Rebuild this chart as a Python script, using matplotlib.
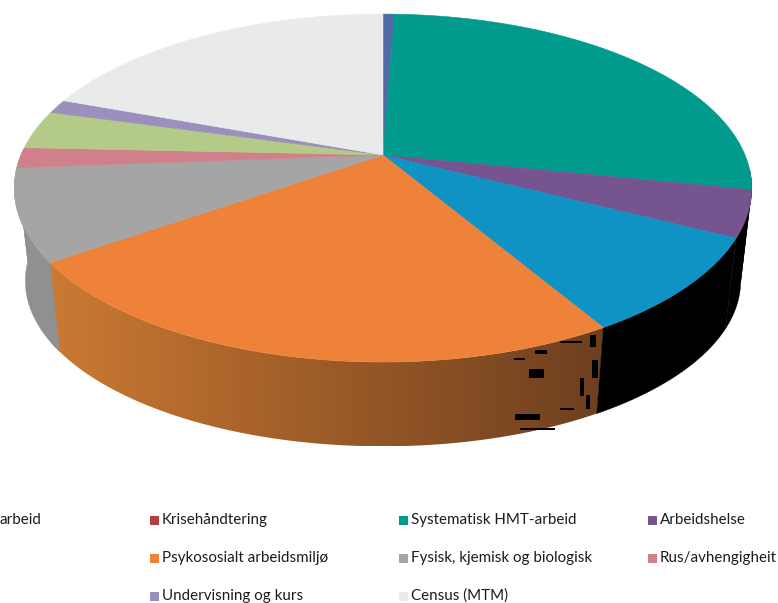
import numpy as np
from matplotlib import pyplot as plt
from matplotlib.colors import LinearSegmentedColormap
from matplotlib.patches import Polygon, Rectangle

# categories, clockwise from 12 o'clock (the first label is cut by the left edge of the picture)
etiketter = ["arbeid", "Krisehåndtering", "Systematisk HMT-arbeid", "Arbeidshelse", "",
             "Psykososialt arbeidsmiljø", "Fysisk, kjemisk og biologisk", "Rus/avhengigheit",
             "", "Undervisning og kurs", "Census (MTM)"]
verdier = [0.6, 0.0, 27.6, 4.3, 9.0, 23.8, 8.5, 1.9, 3.6, 1.3, 19.4]
farger = ["#4f6aa5", "#b0413e", "#009b8d", "#76548f", "#0e93c4",
          "#ee8239", "#a5a5a5", "#d0808a", "#b3cb87", "#9a8fbd", "#e9eaea"]
vegg_farger = ["#000000", "#000000", "#000000", "#000000", "#000000",
               None, "#8f9092", "#8f9092", "#8f9092", "#8f9092", "#8f9092"]

W, H = 778, 603
fig = plt.figure(figsize=(W / 100, H / 100), dpi=100)
ax = fig.add_axes([0, 0, 1, 1])
plt.rcParams["font.family"] = ["Lato", "DejaVu Sans"]


def topp(vinkel):
    # sirkel -> skjerm med perspektiv, vinkel i grader med klokka fra toppen
    v = np.radians(vinkel)
    X, Y = np.sin(v), np.cos(v)
    d = 1 + 0.19 * Y
    return 383 + 362 * X / d, 155 - 167.7 * Y / d


def bunn(vinkel):
    x, y = topp(vinkel)
    return 383 + (x - 383) * 0.97, 281 + (y - 188) * 0.95


grenser = np.cumsum([0] + verdier) / sum(verdier) * 360

# sideveggen, bare fronten synes
for i in range(len(verdier)):
    v0, v1 = max(grenser[i], 95), min(grenser[i + 1], 272)
    if v1 <= v0:
        continue
    t = np.linspace(v0, v1, 60)
    xt, yt = topp(t)
    if vegg_farger[i] is not None:
        xb, yb = bunn(t)
        pts = np.c_[np.r_[xt, xb[::-1]], np.r_[yt, yb[::-1]]]
        ax.add_patch(Polygon(pts, fc=vegg_farger[i], ec=vegg_farger[i], lw=0.3))
    else:
        # oransje vegg: venstre søm er nesten loddrett, derfor litt strekk nederst
        xb, yb = bunn(t + 3.5 * (t - v0) / (v1 - v0))
        pts = np.c_[np.r_[xt, xb[::-1]], np.r_[yt, yb[::-1]]]
        klipp = Polygon(pts, fc="none", ec="none", transform=ax.transData)
        ax.add_patch(klipp)
        cm = LinearSegmentedColormap.from_list("vegg", ["#cc7a33", "#9c5b28", "#6d3f1f"])
        bilde = ax.imshow(np.linspace(0, 1, 256)[None, :], extent=(48, 606, 446, 260),
                          cmap=cm, aspect="auto", interpolation="bilinear")
        bilde.set_clip_path(klipp)

# svarte bildefeil i den brune veggen
for x, y, w, h in [(529, 369, 15, 9), (515, 414, 25, 6), (580, 378, 4, 18), (586, 395, 4, 14),
                   (535, 350, 12, 4), (560, 341, 22, 2), (514, 358, 11, 2), (590, 335, 6, 12),
                   (560, 408, 14, 2), (520, 428, 35, 2), (592, 360, 6, 18)]:
    ax.add_patch(Rectangle((x, y), w, h, fc="black", ec="none"))

# toppflaten
for i in range(len(verdier)):
    if verdier[i] == 0:
        continue
    t = np.linspace(grenser[i], grenser[i + 1], 80)
    x, y = topp(t)
    pts = np.c_[np.r_[383, x], np.r_[155, y]]
    ax.add_patch(Polygon(pts, fc=farger[i], ec=farger[i], lw=0.4))

# tegnforklaring
rad_y = [520, 558, 596]
kol_x = [-98, 150, 399, 648]
for i, navn in enumerate(etiketter):
    r = [0, 0, 0, 0, 1, 1, 1, 1, 2, 2, 2][i]
    k = [0, 1, 2, 3, 0, 1, 2, 3, 0, 1, 2][i]
    if k == 0:
        if navn:
            ax.text(0, rad_y[r], navn, fontsize=10.9, va="center", ha="left", color="#1c1c1c")
        continue
    ax.add_patch(Rectangle((kol_x[k], rad_y[r] - 4), 9, 9, fc=farger[i], ec="none"))
    ax.text(kol_x[k] + 12, rad_y[r], navn, fontsize=10.9, va="center", ha="left", color="#1c1c1c")

ax.set_xlim(0, W)
ax.set_ylim(H, 0)
ax.axis("off")
fig.savefig("out.png", dpi=100)
